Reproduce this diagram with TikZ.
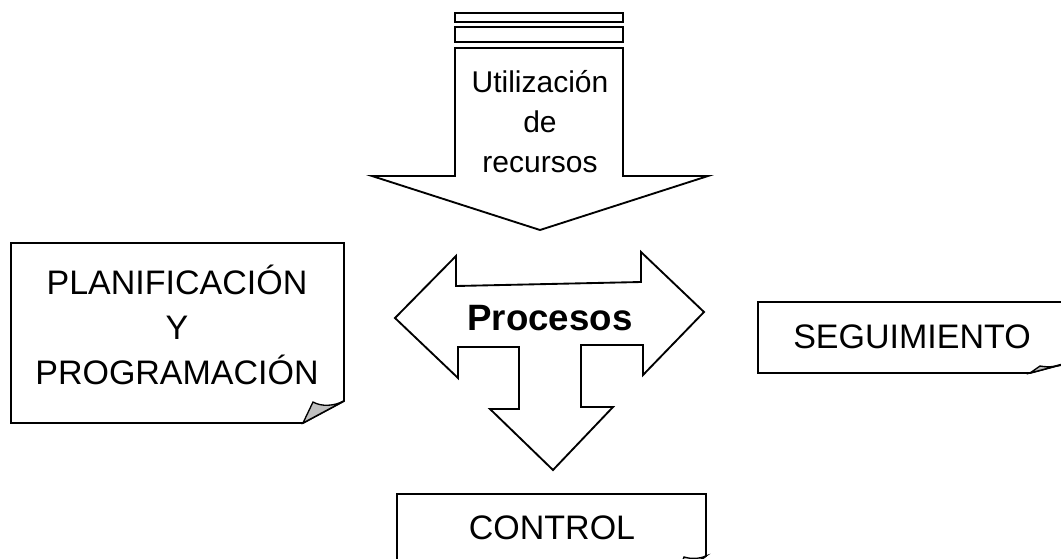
\documentclass[tikz,border=0pt]{standalone}
\usepackage{fontspec}
\setmainfont{Liberation Sans}
\usetikzlibrary{positioning}
\definecolor{foldgray}{RGB}{192,192,192}
\tikzset{
	outline/.style={draw=black, fill=white, line width=1.4pt, line join=miter},
	fold/.style={draw=black, fill=foldgray, line width=1pt},
	boxtext/.style={align=center, font=\fontsize{25.5}{34}\selectfont},
	arrowtext/.style={align=center, font=\fontsize{22.5}{30}\selectfont},
}

\begin{document}
\begin{tikzpicture}[x=0.75pt,y=-0.75pt]
				\clip (0,0) rectangle (1061,558);
				\fill [white] (0,0) rectangle (1061,558);
				
				% stripes above the arrow.....................
				\draw [outline] (455,13) rectangle (623,22);
				\draw [outline] (455,27) rectangle (623,42);
				
				% resources arrow.....................
				\draw [outline] (455,48) -- (623,48) -- (623,176) -- (708,176) -- (540,230) -- (372,176) -- (455,176) -- cycle;
				\node [arrowtext] (recursos) at (540,122) {Utilización\\de\\recursos};
				
				% processes arrow (left, right, down)......................
				\draw [outline] (395,318) -- (456,256) -- (456,286) -- (641,282) -- (641,252) -- (704,312) -- (643,375) -- (643,345)
					-- (581,345) -- (581,407) -- (613,407) -- (553,470) -- (490,409) -- (519,409) -- (519,347) -- (458,347) -- (458,378) -- cycle;
				\node [font=\fontsize{27.5}{33}\selectfont\bfseries] (procesos) at (550,318) {Procesos};
				
				% planning box...................
				\draw [outline] (11,243) -- (344,243) -- (344,401) -- (303,423) -- (11,423) -- cycle;
				\filldraw [fold] (303,423) -- (313,402) .. controls (322,407) and (334,406) .. (344,401) -- cycle;
				\node [boxtext] (planificacion) at (177,325) {PLANIFICACIÓN\\Y\\PROGRAMACIÓN};
				
				% follow-up box....................
				\draw [outline] (758,302) -- (1075,302) -- (1075,361) -- (1030,373) -- (758,373) -- cycle;
				\filldraw [fold] (1030,373) -- (1040,366) .. controls (1050,368) and (1062,366) .. (1075,361) -- cycle;
				\node [boxtext] (seguimiento) at (912,337) {SEGUIMIENTO};
				
				% control box.............
				\draw [outline] (397,494) -- (706,494) -- (706,556) -- (677,576) -- (397,576) -- cycle;
				\filldraw [fold] (677,576) -- (684,557) .. controls (690,559) and (699,559) .. (706,556) -- cycle;
				\node [boxtext] (control) at (552,528) {CONTROL};
			\end{tikzpicture}
\end{document}
